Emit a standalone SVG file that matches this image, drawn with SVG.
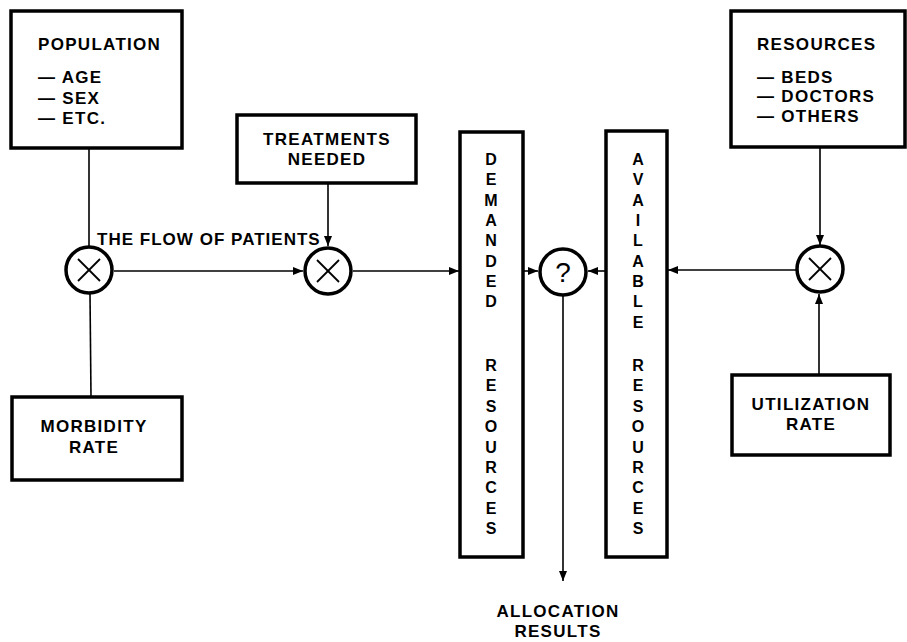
<svg xmlns="http://www.w3.org/2000/svg" width="907" height="642" viewBox="0 0 907 642">
<defs>
<marker id="ah" viewBox="0 0 10 8" refX="10" refY="4" markerWidth="10" markerHeight="8" markerUnits="userSpaceOnUse" orient="auto">
<path d="M0,0 L10,4 L0,8 Z" fill="#000"/>
</marker>
</defs>
<style>
.box{fill:#fff;stroke:#000;stroke-width:3.5}
.circ{fill:#fff;stroke:#000;stroke-width:3.5}
.x{stroke:#000;stroke-width:1.8}
.ln{stroke:#000;stroke-width:1.6;fill:none}
.arr{marker-end:url(#ah)}
text{font-family:"Liberation Sans",Arial,sans-serif;font-weight:bold;font-size:17px;fill:#000;letter-spacing:1.3px}
.c{text-anchor:middle}
.v{text-anchor:middle;font-size:16px;letter-spacing:0}
</style>
<rect width="907" height="642" fill="#fff"/>
<g id="connectors">
<line class="ln" x1="89" y1="148" x2="89" y2="246"/>
<line class="ln" x1="90" y1="294" x2="91" y2="397"/>
<line class="ln arr" x1="114" y1="271" x2="303" y2="271"/>
<line class="ln arr" x1="328" y1="183" x2="328" y2="246"/>
<line class="ln arr" x1="353" y1="271" x2="459" y2="271"/>
<line class="ln arr" x1="523" y1="271" x2="538" y2="271"/>
<line class="ln arr" x1="606" y1="271" x2="588" y2="271"/>
<line class="ln arr" x1="563" y1="296" x2="563" y2="581"/>
<line class="ln arr" x1="796" y1="270" x2="668" y2="270"/>
<line class="ln arr" x1="820" y1="147" x2="820" y2="245"/>
<line class="ln arr" x1="819" y1="375" x2="819" y2="294"/>
</g>
<g id="population">
<rect class="box" x="11" y="11" width="171" height="137"/>
<text x="38" y="50">POPULATION</text>
<text x="38" y="83" letter-spacing="1">— AGE</text>
<text x="38" y="104" letter-spacing="1">— SEX</text>
<text x="38" y="124" letter-spacing="1">— ETC.</text>
</g>
<g id="morbidity">
<rect class="box" x="12" y="397" width="170" height="83"/>
<text class="c" x="94" y="432">MORBIDITY</text>
<text class="c" x="94" y="453">RATE</text>
</g>
<g id="treatments">
<rect class="box" x="237" y="115" width="179" height="68"/>
<text class="c" x="327" y="145">TREATMENTS</text>
<text class="c" x="327" y="165">NEEDED</text>
</g>
<g id="mult1">
<circle class="circ" cx="89" cy="270" r="23"/>
<line class="x" x1="78" y1="259" x2="100" y2="281"/>
<line class="x" x1="100" y1="259" x2="78" y2="281"/>
</g>
<g id="mult2">
<circle class="circ" cx="328" cy="271" r="23"/>
<line class="x" x1="317" y1="260" x2="339" y2="282"/>
<line class="x" x1="339" y1="260" x2="317" y2="282"/>
</g>
<g id="flow-label">
<text x="97" y="245" textLength="224" lengthAdjust="spacing">THE FLOW OF PATIENTS</text>
</g>
<g id="demanded">
<rect class="box" x="460" y="132" width="63" height="425"/>
<text class="v" x="491" y="165">D</text>
<text class="v" x="491" y="185">E</text>
<text class="v" x="491" y="206">M</text>
<text class="v" x="491" y="226">A</text>
<text class="v" x="491" y="246">N</text>
<text class="v" x="491" y="267">D</text>
<text class="v" x="491" y="287">E</text>
<text class="v" x="491" y="307">D</text>
<text class="v" x="491" y="371">R</text>
<text class="v" x="491" y="391">E</text>
<text class="v" x="491" y="412">S</text>
<text class="v" x="491" y="432">O</text>
<text class="v" x="491" y="453">U</text>
<text class="v" x="491" y="473">R</text>
<text class="v" x="491" y="493">C</text>
<text class="v" x="491" y="514">E</text>
<text class="v" x="491" y="534">S</text>
</g>
<g id="question">
<circle class="circ" cx="563" cy="272" r="23"/>
<text x="563" y="282" text-anchor="middle" style="font-weight:normal;font-size:28px;letter-spacing:0">?</text>
</g>
<g id="available">
<rect class="box" x="606" y="131" width="61" height="426"/>
<text class="v" x="638" y="165">A</text>
<text class="v" x="638" y="185">V</text>
<text class="v" x="638" y="206">A</text>
<text class="v" x="638" y="226">I</text>
<text class="v" x="638" y="246">L</text>
<text class="v" x="638" y="267">A</text>
<text class="v" x="638" y="287">B</text>
<text class="v" x="638" y="307">L</text>
<text class="v" x="638" y="328">E</text>
<text class="v" x="638" y="371">R</text>
<text class="v" x="638" y="391">E</text>
<text class="v" x="638" y="412">S</text>
<text class="v" x="638" y="432">O</text>
<text class="v" x="638" y="453">U</text>
<text class="v" x="638" y="473">R</text>
<text class="v" x="638" y="493">C</text>
<text class="v" x="638" y="514">E</text>
<text class="v" x="638" y="534">S</text>
</g>
<g id="resources">
<rect class="box" x="731" y="11" width="174" height="136"/>
<text x="757" y="50">RESOURCES</text>
<text x="757" y="83" letter-spacing="1">— BEDS</text>
<text x="757" y="102" letter-spacing="1">— DOCTORS</text>
<text x="757" y="122" letter-spacing="1">— OTHERS</text>
</g>
<g id="mult3">
<circle class="circ" cx="820" cy="269" r="23"/>
<line class="x" x1="809" y1="258" x2="831" y2="280"/>
<line class="x" x1="831" y1="258" x2="809" y2="280"/>
</g>
<g id="utilization">
<rect class="box" x="732" y="375" width="158" height="80"/>
<text class="c" x="811" y="410">UTILIZATION</text>
<text class="c" x="811" y="430">RATE</text>
</g>
<g id="allocation">
<text class="c" x="558" y="617">ALLOCATION</text>
<text class="c" x="558" y="637">RESULTS</text>
</g>
</svg>
